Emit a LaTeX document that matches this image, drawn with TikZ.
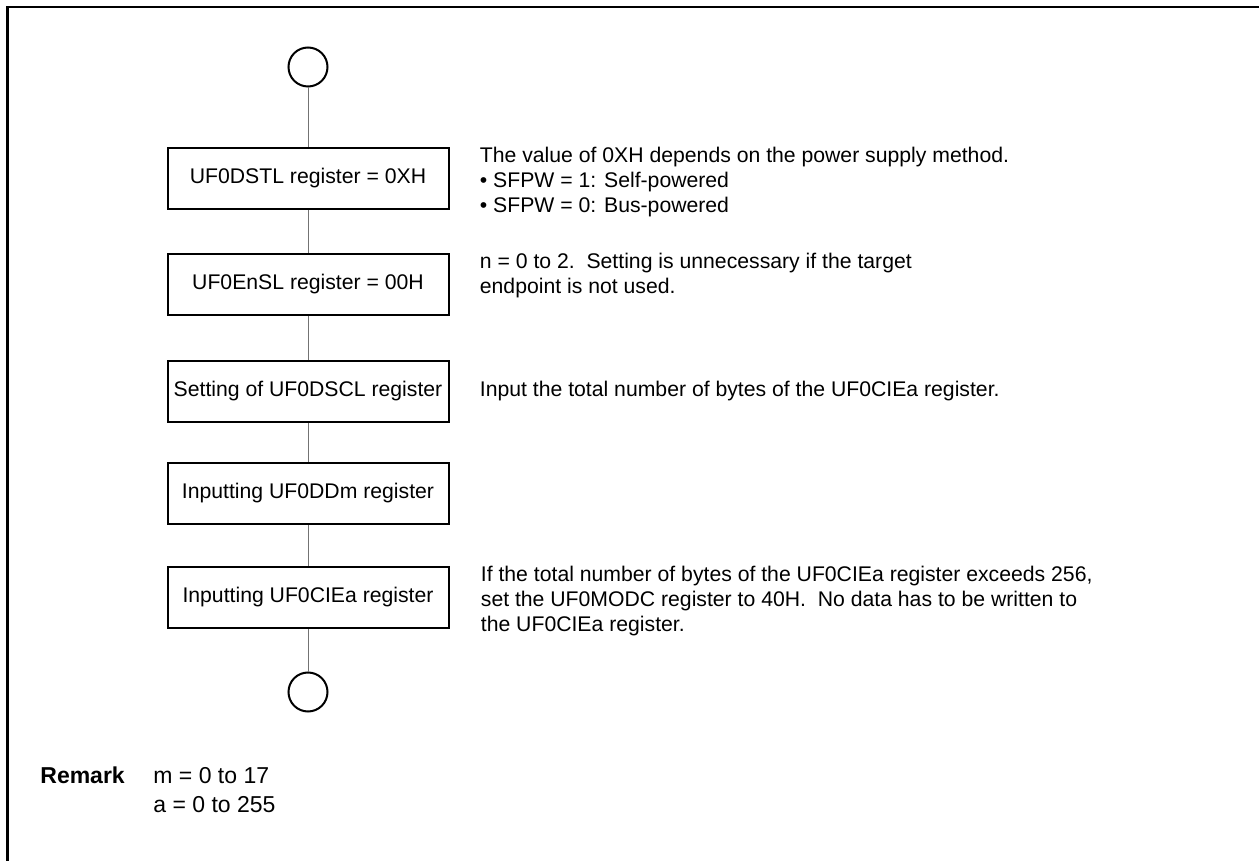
\documentclass[tikz,border=0pt]{standalone}
\usepackage{fontspec}
\setmainfont{Liberation Sans}
\usetikzlibrary{positioning}

\tikzset{
  regbox/.style={draw, line width=1pt, minimum width=140.5pt, minimum height=30.5pt, inner sep=1pt},
  term/.style={draw, circle, line width=1pt, minimum size=19.5pt, inner sep=0pt},
  flow/.style={draw=black!55, line width=0.5pt},
  note/.style={align=left, inner sep=0pt, anchor=north west},
  remark/.style={anchor=base west, inner sep=0pt, font=\fontsize{11.5}{14}\selectfont},
  frame/.style={line width=1.1pt},
}

\begin{document}
\begin{tikzpicture}[x=0.5pt, y=-0.5pt, font=\fontsize{10.6}{12.5}\selectfont]

  \useasboundingbox (0,0) rectangle (1259,861);

  \coordinate (top) at (308,67);
  \coordinate (bot) at (308,692);

  \draw[frame] (7.5,861) -- (7.5,7) -- (1259,7);

  \node[term] (start) at (top) {};
  \node[regbox] (b1) at (308,178.5) {UF0DSTL register = 0XH};
  \node[regbox] (b2) at (308,284.5) {UF0EnSL register = 00H};
  \node[regbox] (b3) at (308,391.5) {Setting of UF0DSCL register};
  \node[regbox] (b4) at (308,493.5) {Inputting UF0DDm register};
  \node[regbox] (b5) at (308,597.5) {Inputting UF0CIEa register};
  \node[term] (stop) at (bot) {};

  \draw[flow] (start) -- (b1);
  \draw[flow] (b1) -- (b2);
  \draw[flow] (b2) -- (b3);
  \draw[flow] (b3) -- (b4);
  \draw[flow] (b4) -- (b5);
  \draw[flow] (b5) -- (stop);

  % notes
  \node[note] (n1) at ([xshift=15pt]b1.north east)
    {The value of 0XH depends on the power supply method.\\
     \textbullet\ SFPW = 1: Self-powered\\
     \textbullet\ SFPW = 0: Bus-powered};
  \node[note] (n2) at ([xshift=15pt]b2.north east)
    {n = 0 to 2.\ \ Setting is unnecessary if the target\\
     endpoint is not used.};
  \node[note, anchor=west] (n3) at ([xshift=15pt]b3.east)
    {Input the total number of bytes of the UF0CIEa register.};
  \node[note] (n5) at ([xshift=15.5pt]b5.north east)
    {If the total number of bytes of the UF0CIEa register exceeds 256,\\
     set the UF0MODC register to 40H.\ \ No data has to be written to\\
     the UF0CIEa register.};

  \node[remark] (rem) at (40,783) {\bfseries Remark};
  \node[remark] (remm) at (153,783) {m = 0 to 17};
  \node[remark] (rema) at (153,812) {a = 0 to 255};

\end{tikzpicture}
\end{document}
